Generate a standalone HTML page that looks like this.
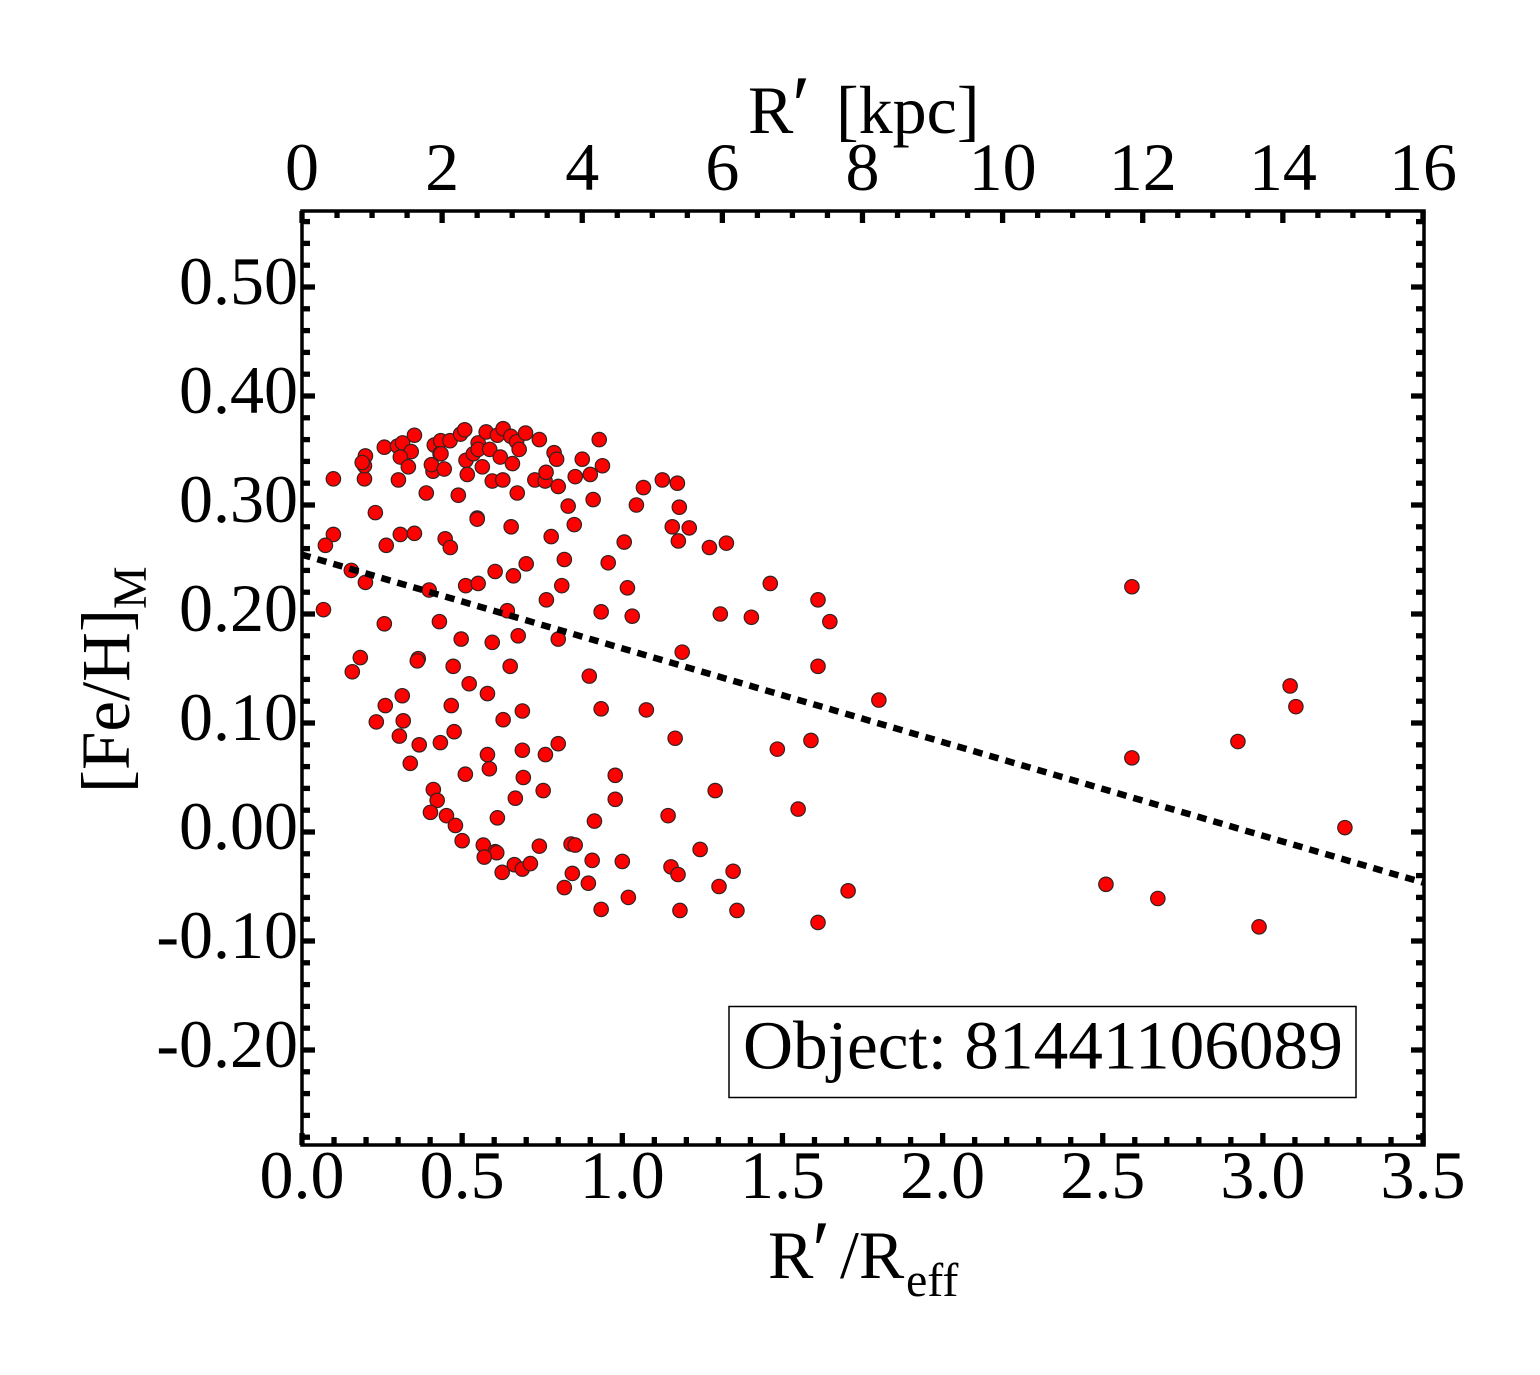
<!DOCTYPE html>
<html lang="en">
<head>
<meta charset="utf-8">
<title>[Fe/H] gradient for object 81441106089</title>
<style>
html,body{margin:0;padding:0;background:#fff;}
svg{display:block;}
text{font-family:"Liberation Serif",serif;fill:#000;}
</style>
</head>
<body>
<svg id="chart" width="1540" height="1375" viewBox="0 0 1540 1375" xmlns="http://www.w3.org/2000/svg">
  <rect x="0" y="0" width="1540" height="1375" fill="#fff"/>
  <g id="points"></g>
  <g id="trend"></g>
  <g id="ticks"></g>
  <rect x="302" y="211" width="1122" height="934" fill="none" stroke="#000" stroke-width="3.5"/>
  <g id="labels" font-size="68"></g>
  <text y="133" font-size="68"><tspan x="748">R</tspan><tspan x="792" font-size="84">′</tspan><tspan x="836">[kpc]</tspan></text>
  <text y="1278" font-size="68"><tspan x="768">R</tspan><tspan x="812" font-size="84">′</tspan><tspan x="840">/R</tspan><tspan x="906" font-size="48" dy="18">eff</tspan></text>
  <text transform="translate(129 793) rotate(-90)" font-size="69">[Fe/H]<tspan font-size="48" dy="17">M</tspan></text>
  <g>
    <rect x="729" y="1006.5" width="627" height="91" fill="#fff" stroke="#000" stroke-width="1.5"/>
    <text x="743" y="1068.5" font-size="69.3">Object: 81441106089</text>
  </g>
</svg>
<script>
const xValues = [
0.098,0.195,0.198,0.195,0.188,0.257,0.301,0.298,0.314,0.341,0.351,0.307,0.332,0.388,0.409,0.404,0.444,0.413,0.433,0.462,
0.431,0.434,0.495,0.508,0.512,0.516,0.488,0.550,0.535,0.550,0.586,0.575,0.610,0.628,0.652,0.670,0.678,0.698,0.741,0.619,
0.657,0.563,0.594,0.627,0.727,0.759,0.762,0.672,0.787,0.795,0.875,0.928,0.938,0.900,0.853,0.800,0.831,0.909,0.850,0.778,
0.819,0.956,1.006,1.044,1.066,1.125,1.172,1.178,1.156,1.209,1.175,1.272,1.325,1.462,0.811,0.763,0.934,1.016,1.031,1.306,
1.403,1.611,1.648,1.611,1.801,0.229,0.098,0.073,0.263,0.307,0.351,0.447,0.463,0.547,0.547,0.653,0.154,0.198,0.067,0.397,
0.511,0.550,0.603,0.660,0.700,0.641,0.257,0.429,0.497,0.594,0.675,0.182,0.157,0.363,0.360,0.472,0.650,0.522,0.579,0.313,
0.260,0.466,0.688,0.628,0.232,0.316,0.475,0.304,0.366,0.432,0.579,0.688,0.760,0.338,0.510,0.585,0.691,0.753,0.666,0.410,
0.422,0.401,0.451,0.610,0.479,0.500,0.566,0.603,0.608,0.569,0.625,0.663,0.688,0.713,0.741,0.913,0.978,0.978,0.840,0.853,
0.906,1.000,0.844,0.894,0.819,0.934,1.019,0.800,1.187,0.897,0.934,1.075,0.800,1.165,1.484,1.290,1.589,1.549,1.143,1.243,
1.152,1.174,1.302,1.346,1.180,1.358,1.611,1.705,2.510,2.672,2.988,3.256,2.591,2.922,3.085,3.103,2.591
];
const yValues = [
0.324,0.324,0.345,0.336,0.339,0.353,0.323,0.354,0.357,0.349,0.364,0.344,0.335,0.311,0.331,0.337,0.333,0.355,0.359,0.359,
0.347,0.347,0.365,0.369,0.341,0.328,0.309,0.357,0.347,0.351,0.351,0.367,0.364,0.370,0.363,0.358,0.351,0.366,0.360,0.344,
0.338,0.335,0.322,0.323,0.323,0.322,0.330,0.311,0.348,0.342,0.342,0.360,0.336,0.328,0.326,0.317,0.299,0.305,0.282,0.271,
0.250,0.247,0.266,0.300,0.316,0.323,0.320,0.298,0.280,0.279,0.267,0.261,0.265,0.228,0.226,0.213,0.202,0.224,0.198,0.200,
0.197,0.213,0.193,0.152,0.121,0.293,0.273,0.263,0.263,0.273,0.274,0.269,0.261,0.288,0.287,0.280,0.240,0.229,0.204,0.222,
0.226,0.228,0.239,0.235,0.246,0.203,0.191,0.193,0.177,0.174,0.180,0.160,0.147,0.159,0.157,0.152,0.152,0.136,0.127,0.125,
0.116,0.116,0.111,0.103,0.101,0.102,0.092,0.088,0.080,0.082,0.071,0.075,0.071,0.063,0.053,0.058,0.050,0.038,0.031,0.039,
0.029,0.018,0.015,0.013,0.006,-0.008,-0.012,-0.018,-0.019,-0.023,-0.037,-0.030,-0.034,-0.029,-0.013,0.010,0.030,0.052,-0.011,-0.012,
-0.026,-0.027,-0.038,-0.047,-0.051,-0.071,-0.060,0.177,0.165,0.143,0.113,0.112,0.081,0.086,0.076,0.038,0.084,0.021,0.015,-0.016,
-0.032,-0.039,-0.050,-0.036,-0.072,-0.072,-0.083,-0.054,-0.048,-0.061,-0.087,0.004,0.068,0.083,0.134,0.115,0.225
];
const trendX = [0, 3.5];
const trendY = [0.2544, -0.0464];
const bottomTickLabels = ["0.0","0.5","1.0","1.5","2.0","2.5","3.0","3.5"];
const topTickLabels = ["0","2","4","6","8","10","12","14","16"];
const leftTickLabels = ["0.50","0.40","0.30","0.20","0.10","0.00","-0.10","-0.20"];

const SVGNS = 'http://www.w3.org/2000/svg';
function xAxis(v){ return 302 + v * 320.3; }
function kpcAxis(v){ return 302 + v * 70.06; }
function yAxis(v){ return 832 - v * 1090; }
function make(tag, parent, attrs){
  const el = document.createElementNS(SVGNS, tag);
  for (const k in attrs) el.setAttribute(k, attrs[k]);
  parent.appendChild(el);
  return el;
}

const pointsGroup = document.getElementById('points');
xValues.forEach(function(xv, i){
  const dot = make('circle', pointsGroup, {cx: xAxis(xv), cy: yAxis(yValues[i]), r: 7.2, fill: '#ff0000', stroke: '#332222', 'stroke-width': 1.2});
  
  
});

const trendGroup = document.getElementById('trend');
const trendLine = make('line', trendGroup, {x1: xAxis(trendX[0]), y1: yAxis(trendY[0]), x2: xAxis(trendX[1]), y2: yAxis(trendY[1]), stroke: '#000', 'stroke-width': 6.5, 'stroke-dasharray': '9.5 7.17', 'stroke-dashoffset': 0.7});



const tickGroup = document.getElementById('ticks');
function tick(x1, y1, x2, y2){
  const t = make('line', tickGroup, {x1: x1, y1: y1, x2: x2, y2: y2, stroke: '#000', 'stroke-width': 5.3});
  
  
}
for (let i = 0; i <= 35; i++) {
  const len = i % 5 === 0 ? 12 : 8;
  const x = xAxis(i / 10);
  tick(x, 1145, x, 1145 - len);
}
for (let i = 0; i <= 32; i++) {
  const len = i % 4 === 0 ? 12 : 7;
  const x = kpcAxis(i / 2);
  tick(x, 211, x, 211 + len);
}
for (let i = -14; i <= 28; i++) {
  const len = i % 5 === 0 ? 13 : 8;
  const y = yAxis(i / 50);
  tick(302, y, 302 + len, y);
  tick(1424, y, 1424 - len, y);
}

const labelGroup = document.getElementById('labels');
bottomTickLabels.forEach(function(s){
  const t = make('text', labelGroup, {x: xAxis(parseFloat(s)), y: 1198, 'text-anchor': 'middle'});
  t.textContent = s;
  
  
});
topTickLabels.forEach(function(s){
  const t = make('text', labelGroup, {x: kpcAxis(parseFloat(s)), y: 190, 'text-anchor': 'middle'});
  t.textContent = s;
  
  
});
leftTickLabels.forEach(function(s){
  const t = make('text', labelGroup, {x: 298, y: yAxis(parseFloat(s)) + 17, 'text-anchor': 'end'});
  t.textContent = s;
  
  
});
</script>
</body>
</html>
